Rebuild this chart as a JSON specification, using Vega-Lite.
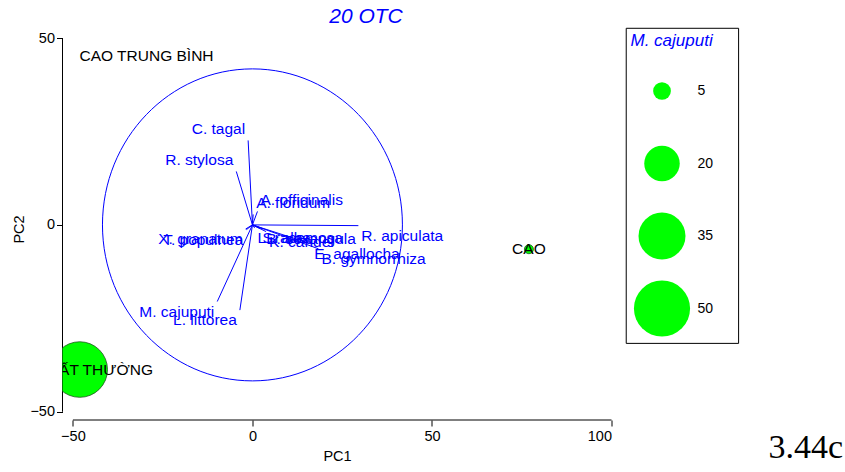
{
  "$schema": "https://vega.github.io/schema/vega-lite/v6.json",
  "width": 549,
  "height": 382,
  "padding": {"left": 11.5, "top": 5, "right": 0, "bottom": 0},
  "title": {
    "text": "20 OTC",
    "fontStyle": "italic",
    "fontWeight": "normal",
    "fontSize": 21,
    "color": "#0000ff",
    "anchor": "middle",
    "frame": "group",
    "offset": 1,
    "dx": 29
  },
  "config": {
    "font": "Liberation Sans",
    "view": {"stroke": null},
    "axis": {
      "domain": false,
      "grid": false,
      "tickColor": "black",
      "tickSize": 6,
      "labelFontSize": 14.5,
      "labelColor": "black",
      "labelPadding": 2,
      "titleFontSize": 14.5,
      "titleFontWeight": "normal",
      "titleColor": "black"
    }
  },
  "datasets": {
    "species": [
      {"species": "C. tagal", "pc1": -1.2, "pc2": 22.6},
      {"species": "R. stylosa", "pc1": -4.5, "pc2": 14.3},
      {"species": "A. officinalis", "pc1": 1.4, "pc2": 3.6},
      {"species": "A. floridum", "pc1": 0.2, "pc2": 2.8},
      {"species": "R. apiculata", "pc1": 29.5, "pc2": -0.2},
      {"species": "X. granatum", "pc1": -1.9, "pc2": -1.1},
      {"species": "T. populnea", "pc1": -1.7, "pc2": -1.3},
      {"species": "L. racemosa", "pc1": 0.6, "pc2": -0.8},
      {"species": "S. alba", "pc1": 2.0, "pc2": -0.9},
      {"species": "B. sexangula", "pc1": 3.0, "pc2": -1.1},
      {"species": "K. candel", "pc1": 3.8, "pc2": -1.8},
      {"species": "E. agallocha", "pc1": 16.4, "pc2": -5.1},
      {"species": "B. gymnorrhiza", "pc1": 18.4, "pc2": -6.4},
      {"species": "M. cajuputi", "pc1": -9.8, "pc2": -20.5},
      {"species": "L. littorea", "pc1": -3.5, "pc2": -22.8}
    ],
    "sites": [
      {"site": "CAO TRUNG BÌNH", "pc1": -29.5, "pc2": 45.3, "mcaj": 0},
      {"site": "CAO", "pc1": 77.0, "pc2": -6.5, "mcaj": 1.3},
      {"site": "THẤT THƯỜNG", "pc1": -48.1, "pc2": -38.7, "mcaj": 49}
    ],
    "anchor": [{}]
  },
  "layer": [
    {
      "data": {"name": "species"},
      "mark": {"type": "rule", "color": "#0000ff", "strokeWidth": 1},
      "encoding": {
        "x": {
          "field": "pc1",
          "type": "quantitative",
          "scale": {"domain": [-52.9, 100], "nice": false, "zero": false},
          "axis": {"title": "PC1", "values": [-50, 0, 50, 100], "labelPadding": 3.5, "titlePadding": 6}
        },
        "x2": {"datum": 0},
        "y": {
          "field": "pc2",
          "type": "quantitative",
          "scale": {"domain": [-52.2, 50], "nice": false, "zero": false},
          "axis": {"title": "PC2", "values": [-50, 0, 50], "titlePadding": 3}
        },
        "y2": {"datum": 0}
      }
    },
    {
      "data": {"name": "anchor"},
      "mark": {"type": "rule", "color": "black", "strokeWidth": 1},
      "encoding": {
        "x": {"datum": -50, "type": "quantitative"},
        "x2": {"datum": 100},
        "y": {"datum": -52.2, "type": "quantitative"}
      }
    },
    {
      "data": {"name": "anchor"},
      "mark": {"type": "rule", "color": "black", "strokeWidth": 1},
      "encoding": {
        "x": {"datum": -52.9, "type": "quantitative"},
        "y": {"datum": -50, "type": "quantitative"},
        "y2": {"datum": 50}
      }
    },
    {
      "data": {"name": "anchor"},
      "mark": {"type": "rect", "fill": "white", "stroke": "black", "strokeWidth": 1, "clip": false},
      "encoding": {
        "x": {"datum": 104.1, "type": "quantitative"},
        "x2": {"datum": 135.4},
        "y": {"datum": 52.6, "type": "quantitative"},
        "y2": {"datum": -31.7}
      }
    },
    {
      "data": {"name": "anchor"},
      "mark": {
        "type": "point",
        "shape": "M-0.9614,0A0.9614,1,0,1,1,0.9614,0A0.9614,1,0,1,1,-0.9614,0Z",
        "size": 97344,
        "filled": false,
        "stroke": "#0000ff",
        "strokeWidth": 1,
        "opacity": 1
      },
      "encoding": {
        "x": {"datum": 0, "type": "quantitative"},
        "y": {"datum": 0, "type": "quantitative"}
      }
    },
    {
      "data": {"name": "species"},
      "transform": [{"filter": "datum.pc1 >= 0 && datum.pc2 >= 0"}],
      "mark": {"type": "text", "align": "left", "baseline": "alphabetic", "dx": 3, "dy": -6, "fontSize": 15.5, "color": "#0000ff"},
      "encoding": {
        "x": {"field": "pc1", "type": "quantitative"},
        "y": {"field": "pc2", "type": "quantitative"},
        "text": {"field": "species"}
      }
    },
    {
      "data": {"name": "species"},
      "transform": [{"filter": "datum.pc1 < 0 && datum.pc2 >= 0"}],
      "mark": {"type": "text", "align": "right", "baseline": "alphabetic", "dx": -3, "dy": -6, "fontSize": 15.5, "color": "#0000ff"},
      "encoding": {
        "x": {"field": "pc1", "type": "quantitative"},
        "y": {"field": "pc2", "type": "quantitative"},
        "text": {"field": "species"}
      }
    },
    {
      "data": {"name": "species"},
      "transform": [{"filter": "datum.pc1 < 0 && datum.pc2 < 0"}],
      "mark": {"type": "text", "align": "right", "baseline": "top", "dx": -3, "dy": 3, "fontSize": 15.5, "color": "#0000ff"},
      "encoding": {
        "x": {"field": "pc1", "type": "quantitative"},
        "y": {"field": "pc2", "type": "quantitative"},
        "text": {"field": "species"}
      }
    },
    {
      "data": {"name": "species"},
      "transform": [{"filter": "datum.pc1 >= 0 && datum.pc2 < 0"}],
      "mark": {"type": "text", "align": "left", "baseline": "top", "dx": 3, "dy": 3, "fontSize": 15.5, "color": "#0000ff"},
      "encoding": {
        "x": {"field": "pc1", "type": "quantitative"},
        "y": {"field": "pc2", "type": "quantitative"},
        "text": {"field": "species"}
      }
    },
    {
      "data": {"name": "sites"},
      "mark": {
        "type": "point",
        "shape": "circle",
        "filled": true,
        "fill": "#00ff00",
        "stroke": "#225522",
        "strokeWidth": 0.8,
        "opacity": 1,
        "clip": true
      },
      "encoding": {
        "x": {"field": "pc1", "type": "quantitative"},
        "y": {"field": "pc2", "type": "quantitative"},
        "size": {
          "field": "mcaj",
          "type": "quantitative",
          "scale": {"domain": [0, 50], "range": [0, 3150], "zero": true},
          "legend": {
            "title": "M. cajuputi",
            "orient": "none",
            "legendX": 563,
            "legendY": -10,
            "values": [5, 20, 35, 50],
            "titleFontSize": 17,
            "titleFontStyle": "italic",
            "titleFontWeight": "normal",
            "titleColor": "#0000ff",
            "titlePadding": 9,
            "labelFontSize": 14,
            "labelColor": "black",
            "labelOffset": 7,
            "strokeColor": null,
            "fillColor": null,
            "padding": 5,
            "clipHeight": 64,
            "rowPadding": 8.5,
            "symbolOffset": 3,
            "symbolType": "circle",
            "symbolFillColor": "#00ff00",
            "symbolStrokeColor": "#225522",
            "symbolStrokeWidth": 0.8,
            "symbolOpacity": 1
          }
        }
      }
    },
    {
      "data": {"name": "sites"},
      "transform": [{"filter": "datum.site != 'THẤT THƯỜNG'"}],
      "mark": {"type": "text", "align": "center", "baseline": "middle", "fontSize": 15.5, "color": "black", "clip": true},
      "encoding": {
        "x": {"field": "pc1", "type": "quantitative"},
        "y": {"field": "pc2", "type": "quantitative"},
        "text": {"field": "site"}
      }
    },
    {
      "data": {"name": "sites"},
      "transform": [{"filter": "datum.site == 'THẤT THƯỜNG'"}],
      "mark": {"type": "text", "align": "center", "baseline": "middle", "dx": 16, "fontSize": 15.5, "color": "black", "clip": true},
      "encoding": {
        "x": {"field": "pc1", "type": "quantitative"},
        "y": {"field": "pc2", "type": "quantitative"},
        "text": {"field": "site"}
      }
    },
    {
      "data": {"name": "anchor"},
      "mark": {"type": "text", "align": "left", "baseline": "alphabetic", "font": "Liberation Serif", "fontSize": 34, "color": "black", "clip": false},
      "encoding": {
        "x": {"datum": 143.7, "type": "quantitative"},
        "y": {"datum": -62.4, "type": "quantitative"},
        "text": {"value": "3.44c"}
      }
    }
  ]
}
